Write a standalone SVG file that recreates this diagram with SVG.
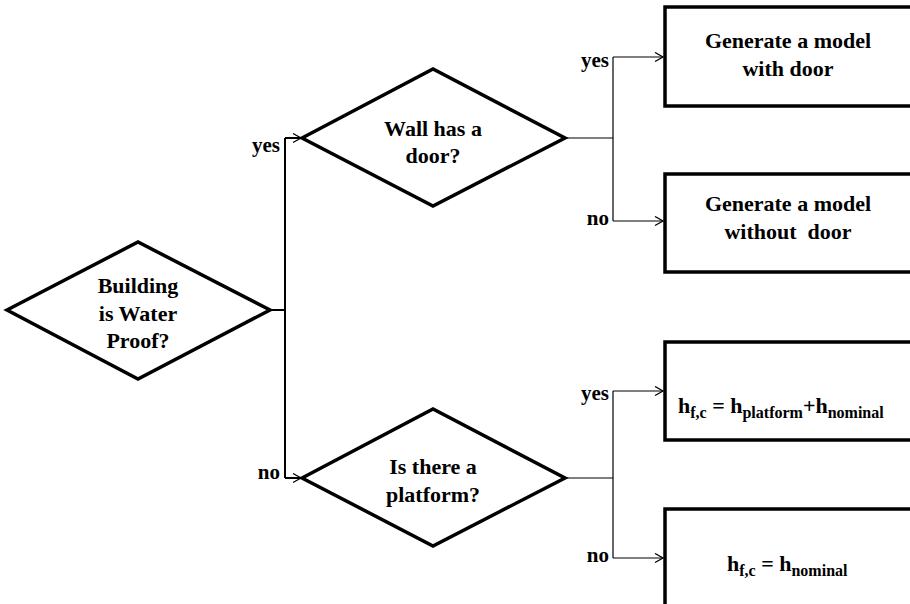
<svg xmlns="http://www.w3.org/2000/svg" width="910" height="604" viewBox="0 0 910 604">
<style>
.shape{fill:#fff;stroke:#000;stroke-width:3.5}
.t{font-family:"Liberation Serif","Times New Roman",serif;font-weight:bold;font-size:22px;fill:#000}
.m{text-anchor:middle}
.lbl{font-family:"Liberation Serif","Times New Roman",serif;font-weight:bold;font-size:21px;fill:#000;text-anchor:end}
.c1{fill:none;stroke:#000;stroke-width:2}
.c2{fill:none;stroke:#000;stroke-width:1.2}
.sub{font-size:16px}
</style>
<defs>
<marker id="arr" markerUnits="userSpaceOnUse" markerWidth="12" markerHeight="12" refX="9" refY="5" orient="auto">
<path d="M1,0.5 L9,5 L1,9.5" fill="none" stroke="#000" stroke-width="1.3"/>
</marker>
</defs>
<g id="connectors">
<path class="c1" d="M270,310 H285"/>
<path class="c1" d="M285,138 V478"/>
<path class="c1" d="M285,138 H301" marker-end="url(#arr)"/>
<path class="c1" d="M285,478 H301" marker-end="url(#arr)"/>
<path class="c2" d="M565,138 H613"/>
<path class="c2" d="M613,57 V221"/>
<path class="c2" d="M613,57 H663" marker-end="url(#arr)"/>
<path class="c2" d="M613,221 H663" marker-end="url(#arr)"/>
<path class="c2" d="M565,478 H613"/>
<path class="c2" d="M613,391 V558"/>
<path class="c2" d="M613,391 H663" marker-end="url(#arr)"/>
<path class="c2" d="M613,558 H663" marker-end="url(#arr)"/>
<text class="lbl" x="280" y="152">yes</text>
<text class="lbl" x="280" y="479">no</text>
<text class="lbl" x="609" y="67">yes</text>
<text class="lbl" x="609" y="225">no</text>
<text class="lbl" x="609" y="400">yes</text>
<text class="lbl" x="609" y="562">no</text>
</g>
<g id="waterproof">
<polygon class="shape" points="7,310 138,242 270,310 138,379"/>
<text class="t m" x="138" y="293">Building</text>
<text class="t m" x="138" y="321">is Water</text>
<text class="t m" x="138" y="348">Proof?</text>
</g>
<g id="door">
<polygon class="shape" points="302,138 433,69 565,138 433,206"/>
<text class="t m" x="433" y="136">Wall has a</text>
<text class="t m" x="433" y="163">door?</text>
</g>
<g id="platform">
<polygon class="shape" points="302,478 433,409 565,478 433,546"/>
<text class="t m" x="433" y="474">Is there a</text>
<text class="t m" x="433" y="502">platform?</text>
</g>
<g id="withdoor">
<rect class="shape" x="665" y="7" width="260" height="99"/>
<text class="t m" x="788" y="48">Generate a model</text>
<text class="t m" x="788" y="76">with door</text>
</g>
<g id="withoutdoor">
<rect class="shape" x="665" y="174" width="260" height="98"/>
<text class="t m" x="788" y="211">Generate a model</text>
<text class="t m" x="788" y="239" xml:space="preserve">without  door</text>
</g>
<g id="hplatform">
<rect class="shape" x="665" y="342" width="260" height="98"/>
<text class="t" x="678" y="413" font-size="23">h<tspan class="sub" dy="5">f,c</tspan><tspan dy="-5"> = h</tspan><tspan class="sub" dy="5">platform</tspan><tspan dy="-5">+h</tspan><tspan class="sub" dy="5">nominal</tspan></text>
</g>
<g id="hnominal">
<rect class="shape" x="665" y="509" width="260" height="110"/>
<text class="t" x="727" y="571" font-size="23">h<tspan class="sub" dy="5">f,c</tspan><tspan dy="-5"> = h</tspan><tspan class="sub" dy="5">nominal</tspan></text>
</g>
</svg>
